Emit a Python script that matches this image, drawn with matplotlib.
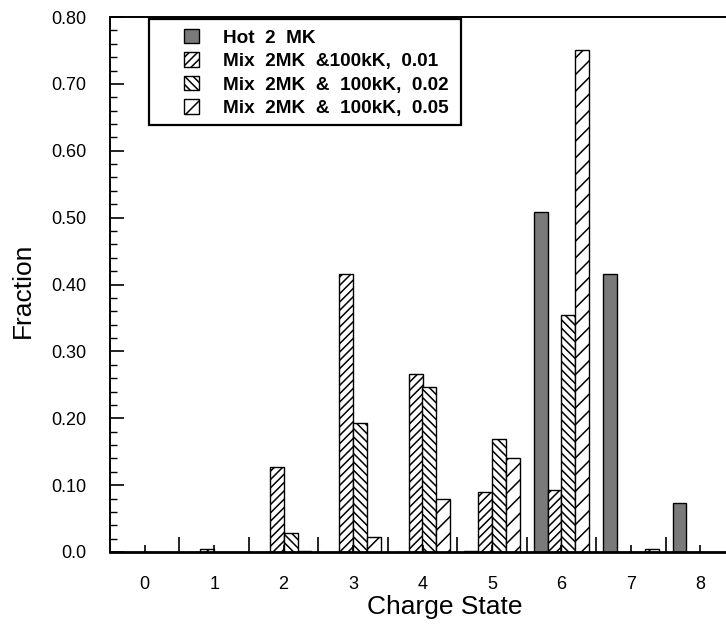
import matplotlib
matplotlib.use("Agg")
import matplotlib.pyplot as plt
from matplotlib.patches import Rectangle
import numpy as np

plt.rcParams['font.family'] = ['Liberation Sans', 'DejaVu Sans']
plt.rcParams['hatch.linewidth'] = 1.1

charge_states = [0, 1, 2, 3, 4, 5, 6, 7, 8]
hot_2mk =   [0.0, 0.0,   0.0,   0.0,   0.0,   0.001, 0.508, 0.416, 0.073]
mix_001 =   [0.0, 0.004, 0.127, 0.415, 0.266, 0.090, 0.093, 0.0,   0.0]
mix_002 =   [0.0, 0.0,   0.028, 0.193, 0.247, 0.169, 0.354, 0.0,   0.0]
mix_005 =   [0.0, 0.0,   0.001, 0.022, 0.079, 0.140, 0.750, 0.005, 0.0]

series = [
    ("Hot  2  MK", hot_2mk, '#7a7a7a', None),
    ("Mix  2MK  &100kK,  0.01", mix_001, 'white', '////'),
    ("Mix  2MK  &  100kK,  0.02", mix_002, 'white', '\\\\\\\\'),
    ("Mix  2MK  &  100kK,  0.05", mix_005, 'white', '//'),
]
y_ticks = [0.0, 0.10, 0.20, 0.30, 0.40, 0.50, 0.60, 0.70, 0.80]
y_ticklabels = ["0.0", "0.10", "0.20", "0.30", "0.40", "0.50", "0.60", "0.70", "0.80"]

W, H = 726, 624
fig = plt.figure(figsize=(W / 100, H / 100), dpi=100)
ax_left, ax_right, ax_top, ax_bot = 110, 735, 17, 552
ax = fig.add_axes([ax_left / W, 1 - ax_bot / H, (ax_right - ax_left) / W, (ax_bot - ax_top) / H])

x = np.array(charge_states, dtype=float)
width = 0.2
offsets = [-0.3, -0.1, 0.1, 0.3]
handles = []
for (label, vals, color, hatch), off in zip(series, offsets):
    b = ax.bar(x + off, vals, width, color=color, edgecolor='black', linewidth=1.0,
               hatch=hatch, label=label)
    handles.append(b)

ax.set_xlim(-0.5, 8.5)
ax.set_ylim(0, 0.80)
ax.set_yticks(y_ticks)
ax.set_yticklabels(y_ticklabels, fontsize=13)
ax.set_yticks(np.arange(0, 0.801, 0.02), minor=True)

# x: labels at integers with small ticks, tall ticks at category boundaries
ax.set_xticks(charge_states)
ax.set_xticklabels([str(c) for c in charge_states], fontsize=13)
ax.set_xticks(np.arange(0.5, 8.6, 1.0), minor=True)
ax.tick_params(axis='x', which='major', direction='in', length=5, width=1.2, pad=17)
ax.tick_params(axis='x', which='minor', direction='in', length=11, width=1.2)
ax.tick_params(axis='y', which='major', direction='in', length=10, width=1.2, pad=17)
ax.tick_params(axis='y', which='minor', direction='in', length=5, width=1.0)

for s in ax.spines.values():
    s.set_linewidth(1.4)
ax.spines['bottom'].set_linewidth(2.0)

ax.set_xlabel("Charge State", fontsize=19)
ax.xaxis.set_label_coords((445 - ax_left) / (ax_right - ax_left), -(607 - ax_bot) / (ax_bot - ax_top),
                          transform=ax.transAxes)
ax.xaxis.label.set_va('center')
ax.set_ylabel("Fraction", fontsize=19)
ax.yaxis.set_label_coords(-(ax_left - 23) / (ax_right - ax_left), (ax_bot - 290) / (ax_bot - ax_top),
                          transform=ax.transAxes)
ax.yaxis.label.set_va('center')

# legend frame
lx0, lx1, ly0, ly1 = 149, 461, 19, 125
frame = Rectangle((lx0 / W, 1 - ly1 / H), (lx1 - lx0) / W, (ly1 - ly0) / H,
                  transform=fig.transFigure, facecolor='white', edgecolor='black',
                  linewidth=1.6, zorder=5, clip_on=False)
ax.add_patch(frame)
leg = ax.legend(handles=handles, loc='upper left',
                bbox_to_anchor=(180 / W, 1 - 25 / H), bbox_transform=fig.transFigure,
                frameon=False, prop={'weight': 'bold', 'size': 13.7},
                handlelength=0.78, handleheight=0.78, handletextpad=1.3,
                labelspacing=0.3, borderpad=0.2, borderaxespad=0)
leg.set_zorder(6)

fig.savefig("out.png", dpi=100)
